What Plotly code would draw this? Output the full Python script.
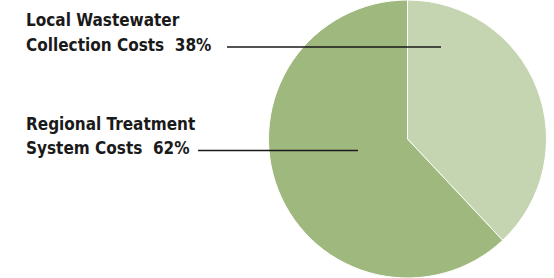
import plotly.graph_objects as go

W, H = 554, 278

categories = ["Local Wastewater Collection Costs", "Regional Treatment System Costs"]
shares = [38, 62]
label_lines = [["Local Wastewater", "Collection Costs\u00a0\u00a038%"],
               ["Regional Treatment", "System Costs\u00a0\u00a062%"]]
colors = ["#c6d5b1", "#9fb87d"]

fig = go.Figure()
fig.add_trace(go.Pie(
    labels=categories, values=shares, sort=False, direction="clockwise", rotation=0,
    marker=dict(colors=colors, line=dict(color="white", width=1)),
    textinfo="none", hoverinfo="skip", showlegend=False,
    domain=dict(x=[268.5 / W, 546.5 / W], y=[0, 1]),
))

font = dict(family="DejaVu Sans Condensed, DejaVu Sans, sans-serif",
            size=17, color="#1a1a1a")
text_x = 25
line_centers = [[20.5, 44.8], [124.0, 148.3]]
leaders = [(227, 441, 47), (198, 358, 150.5)]

for lines, centers in zip(label_lines, line_centers):
    for t, yc in zip(lines, centers):
        fig.add_annotation(text="<b>" + t + "</b>", x=text_x / W, y=1 - yc / H,
                           xref="paper", yref="paper", xanchor="left", yanchor="middle",
                           showarrow=False, font=font, borderpad=0)

for x0, x1, y in leaders:
    fig.add_shape(type="line", xref="paper", yref="paper",
                  x0=x0 / W, x1=x1 / W, y0=1 - y / H, y1=1 - y / H,
                  line=dict(color="#1a1a1a", width=1.5))

fig.update_layout(width=W, height=H, margin=dict(l=0, r=0, t=0, b=0),
                  paper_bgcolor="white", plot_bgcolor="white")
fig.write_html("out.html", config={"displayModeBar": False},
               post_script="document.body.style.margin='0';")
